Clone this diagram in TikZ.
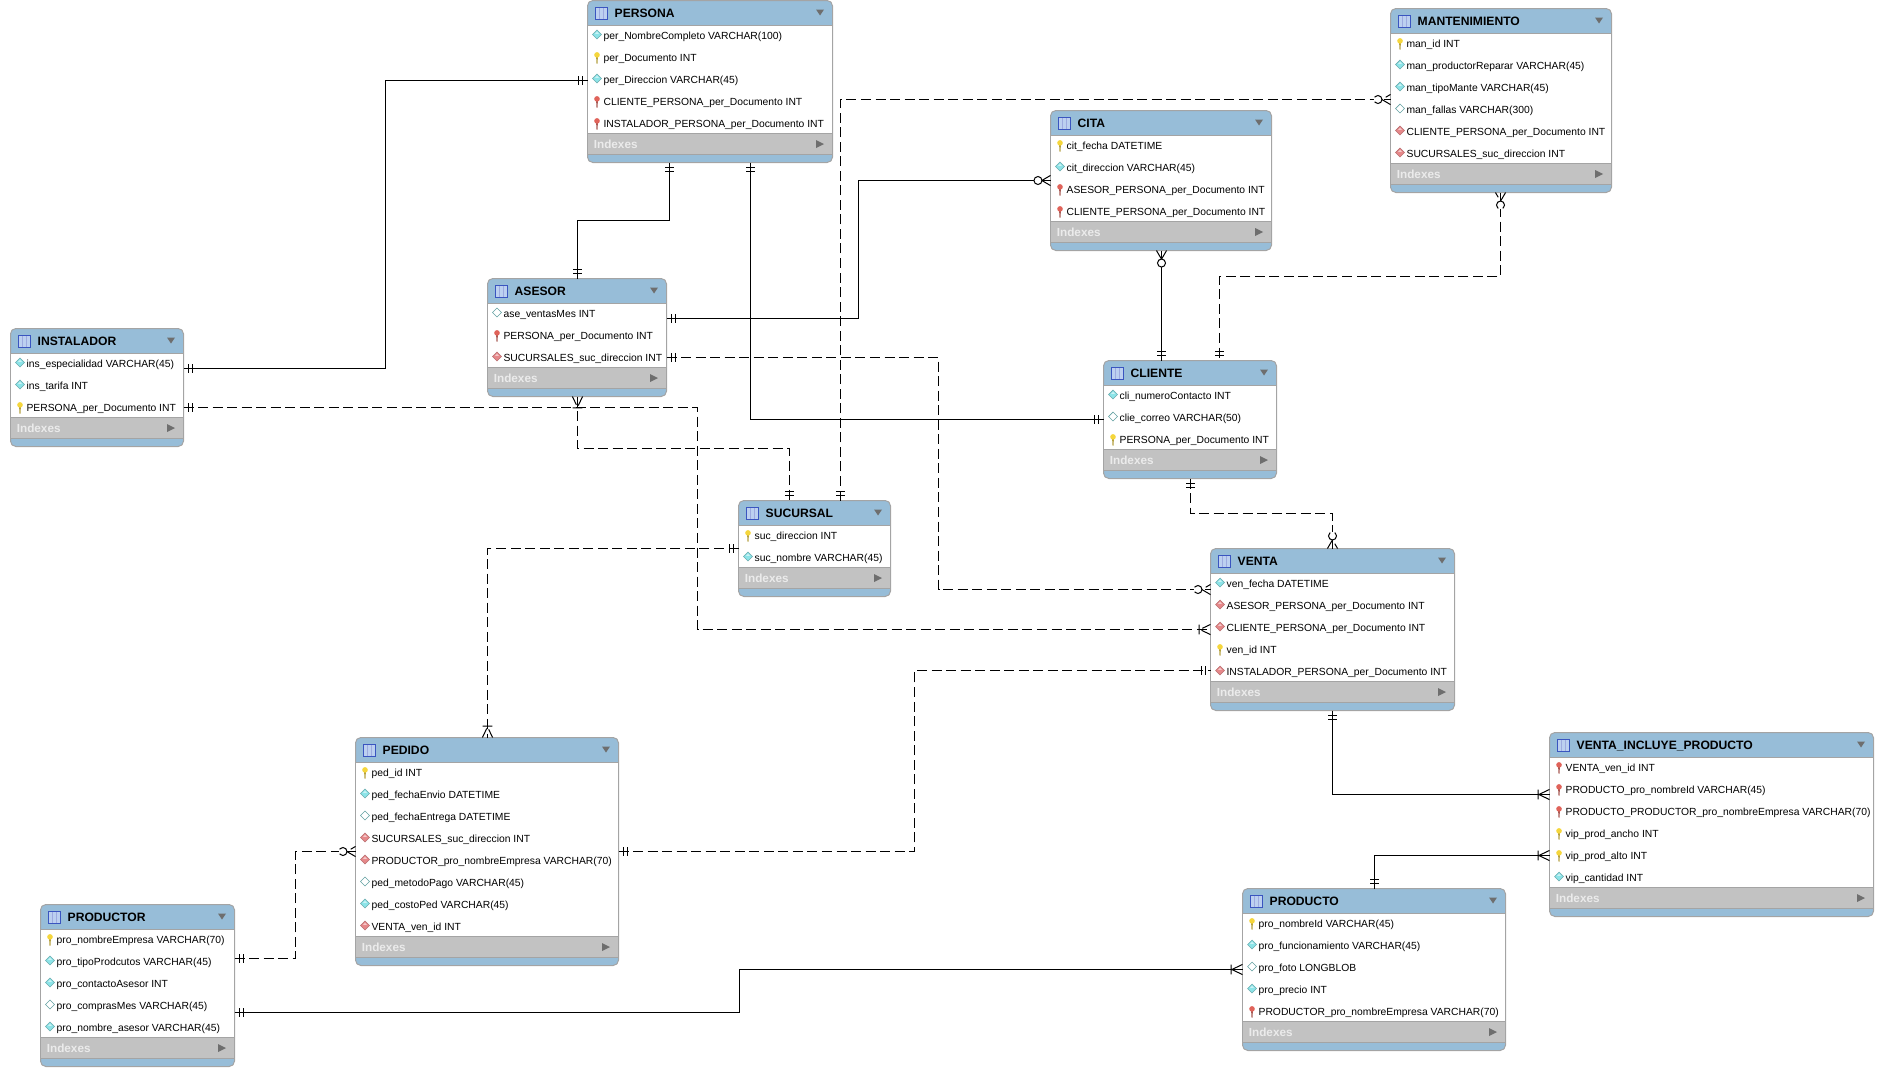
\documentclass[tikz,border=0pt]{standalone}
\usepackage{fontspec}
\setmainfont{Liberation Sans}
\usetikzlibrary{positioning, calc}

\definecolor{headblue}{HTML}{97BDD8}
\definecolor{idxgray}{HTML}{C2C2C2}
\definecolor{edgegray}{HTML}{A4A4A4}
\definecolor{arrowgray}{HTML}{6E6E6E}
\definecolor{keyyellow}{HTML}{F5D63C}
\definecolor{keyred}{HTML}{E0635A}
\definecolor{diacyan}{HTML}{8CE4E8}
\definecolor{diared}{HTML}{E6888A}
\definecolor{glyphedge}{HTML}{3A55C0}
\definecolor{glyphfill}{HTML}{BCD0F0}

% connector ends
\pgfdeclarearrow{
	name = ERone,
	setup code = {\pgfarrowssettipend{0pt}\pgfarrowssetlineend{0pt}\pgfarrowssetbackend{-7pt}},
	drawing code = {
		\pgfpathmoveto{\pgfpoint{-3.4pt}{-3.2pt}}\pgfpathlineto{\pgfpoint{-3.4pt}{3.2pt}}
		\pgfpathmoveto{\pgfpoint{-6.4pt}{-3.2pt}}\pgfpathlineto{\pgfpoint{-6.4pt}{3.2pt}}
		\pgfusepathqstroke},
}
\pgfdeclarearrow{
	name = ERmany,
	setup code = {\pgfarrowssettipend{0pt}\pgfarrowssetlineend{0pt}\pgfarrowssetbackend{-9pt}},
	drawing code = {
		\pgfpathmoveto{\pgfpoint{0pt}{-3.8pt}}\pgfpathlineto{\pgfpoint{-8pt}{0pt}}\pgfpathlineto{\pgfpoint{0pt}{3.8pt}}
		\pgfpathmoveto{\pgfpoint{-8.6pt}{-3.6pt}}\pgfpathlineto{\pgfpoint{-8.6pt}{3.6pt}}
		\pgfusepathqstroke},
}
\pgfdeclarearrow{
	name = ERzero,
	setup code = {\pgfarrowssettipend{0pt}\pgfarrowssetlineend{0pt}\pgfarrowssetbackend{-12pt}},
	drawing code = {
		\pgfpathmoveto{\pgfpoint{0pt}{-3.8pt}}\pgfpathlineto{\pgfpoint{-6.5pt}{0pt}}\pgfpathlineto{\pgfpoint{0pt}{3.8pt}}
		\pgfusepathqstroke
		\pgfsetfillcolor{white}
		\pgfpathcircle{\pgfpoint{-9.4pt}{0pt}}{3pt}
		\pgfusepathqfillstroke},
}

\tikzset{
	tablebody/.style={draw=edgegray, line width=.75pt, fill=headblue, rounded corners=4pt, inner sep=0pt, outer sep=0pt, anchor=north west},
	headbox/.style={inner sep=0pt, outer sep=0pt, minimum height=18.75pt},
	rowbox/.style={fill=white, inner sep=0pt, outer sep=0pt, minimum height=16.5pt},
	idxbox/.style={fill=idxgray, inner sep=0pt, outer sep=0pt, minimum height=15.75pt},
	titletext/.style={inner sep=0pt, outer sep=0pt, anchor=west, font=\fontsize{9.1}{10}\selectfont\bfseries, text height=7pt, text depth=0pt},
	rowtext/.style={inner sep=0pt, outer sep=0pt, anchor=west, font=\fontsize{7.75}{9}\selectfont, text height=6.3pt, text depth=1.3pt},
	idxtext/.style={inner sep=0pt, outer sep=0pt, anchor=west, text=white!92!black, font=\fontsize{8.8}{9}\selectfont\bfseries, text height=6pt, text depth=0pt},
	strip/.style={draw=edgegray, line width=.75pt},
	tabglyph/.style={draw=glyphedge, fill=glyphfill, line width=.6pt},
	fk/.style={line width=.75pt, black},
	nfk/.style={fk, dash pattern=on 7.5pt off 3.4pt},
	pics/keyicon/.style={code={
		\fill[#1!70!black!90] (-.9,0) -- (.9,0) -- (.5,7) -- (-.5,7) -- cycle;
		\fill[#1] (0,-1.6) circle[radius=2.8];
	}},
	pics/diaicon/.style 2 args={code={
		\path[fill=#1, draw=#2, line width=.4pt] (-4.4,0) -- (0,-4.4) -- (4.4,0) -- (0,4.4) -- cycle;
		\fill[white, opacity=.55] (-2,-.6) -- (0,-2.8) -- (2,-.6) -- cycle;
	}},
}
\newcommand{\icyk}{\pic at (ico) {keyicon=keyyellow};}
\newcommand{\icrk}{\pic at (ico) {keyicon=keyred};}
\newcommand{\iccd}{\pic at (ico) {diaicon={diacyan}{diacyan!75!black}};}
\newcommand{\icrd}{\pic at (ico) {diaicon={diared}{diared!80!black}};}
\newcommand{\icod}{\pic at (ico) {diaicon={white}{diacyan!70!black}};}

% name, left, top, width, number of rows, title, rows
\newcommand{\ertable}[7]{
	\node[tablebody, minimum width=#4*.75pt, minimum height=(22*#5+52)*.75pt] (#1) at (#2,#3) {};
	\node[headbox, minimum width=(#4-1)*.75pt, anchor=north] (#1-head) at (#1.north) {};
	\foreach \ic/\txt [count=\i, remember=\i as \j (initially head)] in {#7} {
		\node[rowbox, minimum width=(#4-1)*.75pt] (#1-\i) [below=0pt of #1-\j] {};
		\node[rowtext] (#1-\i-txt) [right=11.7pt of #1-\i.west] {\txt};
		\coordinate (ico) at ($(#1-\i.west)+(9,-2)$);
		\csname ic\ic\endcsname
	}
	\node[idxbox, minimum width=(#4-1)*.75pt] (#1-idx) [below=-1.5pt of #1-#5] {};
	\node[idxtext] (#1-idxtxt) [right=4.4pt of #1-idx.west] {Indexes};
	\draw[strip] (#1-head.south west) -- (#1-head.south east);
	\draw[strip] (#1-idx.north west) -- (#1-idx.north east);
	\draw[strip] (#1-idx.south west) -- (#1-idx.south east);
	\node[titletext] (#1-title) [right=20pt of #1-head.west] {#6};
	\draw[tabglyph] ($(#1-head.west)+(7,-6)$) rectangle ($(#1-head.west)+(19,6)$);
	\draw[glyphedge!50!white, line width=.35pt] ($(#1-head.west)+(11,-5)$) -- ($(#1-head.west)+(11,6)$)
		($(#1-head.west)+(15,-5)$) -- ($(#1-head.west)+(15,6)$);
	\fill[arrowgray] ($(#1-head.east)+(-16,-3.5)$) -- ($(#1-head.east)+(-8,-3.5)$) -- ($(#1-head.east)+(-12,2.5)$) -- cycle;
	\fill[arrowgray] ($(#1-idx.east)+(-16,-4)$) -- ($(#1-idx.east)+(-8,0)$) -- ($(#1-idx.east)+(-16,4)$) -- cycle;
}

\begin{document}
\begin{tikzpicture}[x=.75pt, y=-.75pt]
	\useasboundingbox (0,0) rectangle (1884,1086);

	\ertable{persona}{587.5}{.5}{245}{5}{PERSONA}{cd/per\_NombreCompleto VARCHAR(100), yk/per\_Documento INT, cd/per\_Direccion VARCHAR(45), rk/CLIENTE\_PERSONA\_per\_Documento INT, rk/INSTALADOR\_PERSONA\_per\_Documento INT}
	\ertable{mant}{1390.5}{8.5}{221}{6}{MANTENIMIENTO}{yk/man\_id INT, cd/man\_productorReparar VARCHAR(45), cd/man\_tipoMante VARCHAR(45), od/man\_fallas VARCHAR(300), rd/CLIENTE\_PERSONA\_per\_Documento INT, rd/SUCURSALES\_suc\_direccion INT}
	\ertable{cita}{1050.5}{110.5}{221}{4}{CITA}{yk/cit\_fecha DATETIME, cd/cit\_direccion VARCHAR(45), rk/ASESOR\_PERSONA\_per\_Documento INT, rk/CLIENTE\_PERSONA\_per\_Documento INT}
	\ertable{asesor}{487.5}{278.5}{179}{3}{ASESOR}{od/ase\_ventasMes INT, rk/PERSONA\_per\_Documento INT, rd/SUCURSALES\_suc\_direccion INT}
	\ertable{instalador}{10.5}{328.5}{173}{3}{INSTALADOR}{cd/ins\_especialidad VARCHAR(45), cd/ins\_tarifa INT, yk/PERSONA\_per\_Documento INT}
	\ertable{cliente}{1103.5}{360.5}{173}{3}{CLIENTE}{cd/cli\_numeroContacto INT, od/clie\_correo VARCHAR(50), yk/PERSONA\_per\_Documento INT}
	\ertable{sucursal}{738.5}{500.5}{152}{2}{SUCURSAL}{yk/suc\_direccion INT, cd/suc\_nombre VARCHAR(45)}
	\ertable{venta}{1210.5}{548.5}{244}{5}{VENTA}{cd/ven\_fecha DATETIME, rd/ASESOR\_PERSONA\_per\_Documento INT, rd/CLIENTE\_PERSONA\_per\_Documento INT, yk/ven\_id INT, rd/INSTALADOR\_PERSONA\_per\_Documento INT}
	\ertable{vip}{1549.5}{732.5}{324}{6}{VENTA\_INCLUYE\_PRODUCTO}{rk/VENTA\_ven\_id INT, rk/PRODUCTO\_pro\_nombreId VARCHAR(45), rk/PRODUCTO\_PRODUCTOR\_pro\_nombreEmpresa VARCHAR(70), yk/vip\_prod\_ancho INT, yk/vip\_prod\_alto INT, cd/vip\_cantidad INT}
	\ertable{producto}{1242.5}{888.5}{263}{5}{PRODUCTO}{yk/pro\_nombreId VARCHAR(45), cd/pro\_funcionamiento VARCHAR(45), od/pro\_foto LONGBLOB, cd/pro\_precio INT, rk/PRODUCTOR\_pro\_nombreEmpresa VARCHAR(70)}
	\ertable{pedido}{355.5}{737.5}{263}{8}{PEDIDO}{yk/ped\_id INT, cd/ped\_fechaEnvio DATETIME, od/ped\_fechaEntrega DATETIME, rd/SUCURSALES\_suc\_direccion INT, rd/PRODUCTOR\_pro\_nombreEmpresa VARCHAR(70), od/ped\_metodoPago VARCHAR(45), cd/ped\_costoPed VARCHAR(45), rd/VENTA\_ven\_id INT}
	\ertable{productor}{40.5}{904.5}{194}{5}{PRODUCTOR}{yk/pro\_nombreEmpresa VARCHAR(70), cd/pro\_tipoProdcutos VARCHAR(45), cd/pro\_contactoAsesor INT, od/pro\_comprasMes VARCHAR(45), cd/pro\_nombre\_asesor VARCHAR(45)}

	\draw[fk, {ERone}-{ERone}]		($(instalador.north east)+(0,40)$) -- ++(202,0) |- ($(persona.north west)+(0,80)$);
	\draw[fk, {ERone}-{ERone}]		($(persona.south west)+(82,0)$) -- ++(0,58) -| ($(asesor.north west)+(90,0)$);
	\draw[fk, {ERone}-{ERone}]		($(persona.south west)+(163,0)$) |- ($(cliente.north west)+(0,59)$);
	\draw[fk, {ERone}-{ERzero}]		($(asesor.north east)+(0,40)$) -- ++(192,0) |- ($(cita.north west)+(0,70)$);
	\draw[fk, {ERzero}-{ERone}]		($(cita.south west)+(111,0)$) -- ($(cliente.north west)+(58,0)$);
	\draw[nfk, {ERzero}-{ERone}]	($(mant.south west)+(110,0)$) -- ++(0,84) -| ($(cliente.north west)+(116,0)$);
	\draw[nfk, {ERone}-{ERzero}]	($(sucursal.north west)+(102,0)$) |- ($(mant.north west)+(0,91)$);
	\draw[nfk, {ERmany}-{ERone}]	($(asesor.south west)+(90,0)$) -- ++(0,52) -| ($(sucursal.north west)+(51,0)$);
	\draw[nfk, {ERone}-{ERmany}]	($(instalador.north east)+(0,79)$) -- ++(514,0) |- ($(venta.north west)+(0,81)$);
	\draw[nfk, {ERone}-{ERzero}]	($(asesor.north east)+(0,79)$) -- ++(272,0) |- ($(venta.north west)+(0,41)$);
	\draw[nfk, {ERone}-{ERzero}]	($(cliente.south west)+(87,0)$) -- ++(0,35) -| ($(venta.north west)+(122,0)$);
	\draw[nfk, {ERone}-{ERmany}]	($(sucursal.north west)+(0,48)$) -| ($(pedido.north west)+(132,0)$);
	\draw[nfk, {ERone}-{ERone}]		($(pedido.north east)+(0,114)$) -- ++(296,0) |- ($(venta.north west)+(0,122)$);
	\draw[nfk, {ERone}-{ERzero}]	($(productor.north east)+(0,54)$) -- ++(61,0) |- ($(pedido.north west)+(0,114)$);
	\draw[fk, {ERone}-{ERmany}]		($(productor.north east)+(0,108)$) -- ++(505,0) |- ($(producto.north west)+(0,81)$);
	\draw[fk, {ERone}-{ERmany}]		($(venta.south west)+(122,0)$) |- ($(vip.north west)+(0,62)$);
	\draw[fk, {ERone}-{ERmany}]		($(producto.north west)+(132,0)$) |- ($(vip.north west)+(0,123)$);
\end{tikzpicture}
\end{document}
